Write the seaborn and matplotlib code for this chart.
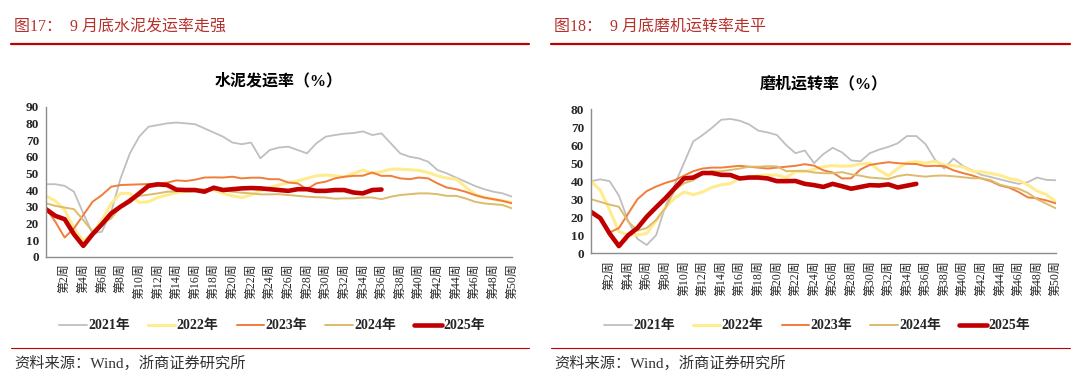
import matplotlib.pyplot as plt
import seaborn as sns
from matplotlib.lines import Line2D

# x positions (weeks) and labels
weeks = list(range(0, 51))
week_labels = [f"第{w}周" if (w % 2 == 0 and w > 0) else "" for w in weeks]

years = ["2021年", "2022年", "2023年", "2024年", "2025年"]
colors = ["#BFBFBF", "#FFEC8F", "#F07D3A", "#DDBB6C", "#C00000"]
widths = [1.3, 2.2, 1.4, 1.4, 3.3]

# 水泥发运率 (%)
cement_2021 = [43.5, 43.5, 42.5, 39, 26, 14, 15, 27, 47, 62, 72, 78, 79, 80, 80.5, 80, 79.5, 77, 74.5, 72,
               68.5, 67.5, 68.5, 59, 64, 65.5, 66, 64, 62, 68, 72, 73, 73.8, 74.2, 75.2, 73, 74, 68, 62, 60,
               59, 57, 52, 50, 47.5, 45, 42.5, 40.5, 39, 38, 36]
cement_2022 = [36.5, 33.5, 28, 17, 9.5, 14, 22, 32, 38, 38, 32.5, 33, 35.5, 37, 38.5, 39.2, 39.6, 40, 40, 38,
               36.5, 35.5, 37, 39.5, 41.5, 43, 44.5, 45.5, 47, 48.5, 49, 48.5, 47.8, 50, 52, 50, 51, 52.5, 52.5, 52.2,
               51.8, 50.5, 48.5, 47.2, 46.5, 42, 37.5, 35.5, 34.5, 33.5, 32.5]
cement_2023 = [29, 21, 11.5, 17, 25, 33, 37, 42, 43, 43.2, 43.4, 43.6, 44, 44.4, 45.8, 45.4, 46.2, 47.5, 47.6, 47.5,
               48, 47, 47.4, 47.4, 46.5, 46.5, 44.5, 44, 40.5, 44, 45, 47, 48, 48.5, 48.6, 50.5, 48.5, 48.5, 47, 46.5,
               47.5, 47, 44, 41.5, 40.5, 39, 37, 35.5, 34.5, 33.5, 32]
cement_2024 = [32, 30.5, 29.5, 28.5, 22, 15, 19.5, 23, 30, 35, 36.5, 37.2, 38, 39, 39.2, 39.8, 40, 40.5, 40.2, 39.8,
               39, 38.4, 38, 37.4, 37.4, 37.5, 37, 36.5, 36, 35.7, 35.5, 34.8, 35, 35, 35.5, 35.5, 34.5, 36, 37, 37.5,
               38, 38, 37.5, 36.5, 36.5, 35, 33, 32, 31.5, 31, 29]
cement_2025 = [28.5, 24.5, 22.5, 13.5, 6.5, 13.5, 19.5, 26, 30, 33.5, 38, 42.5, 43.4, 43, 40.2, 40, 40, 39, 41.4, 40,
               40.5, 41, 41.2, 41, 40.5, 40, 39.5, 40.5, 40.5, 39.5, 39.5, 40, 40, 38.5, 38, 40, 40.3]

# 磨机运转率 (%)
mill_2021 = [40, 41, 40, 32, 18, 8, 4.6, 10, 26, 38, 50, 62, 65.5, 69.5, 74, 74.5, 73.5, 71.5, 68, 67,
             65.6, 60, 55.5, 57, 50, 55, 58.5, 56, 51.5, 51, 55.5, 57.5, 59, 61, 65, 65, 60.5, 52, 47, 52.5,
             48.5, 46, 43.5, 42.3, 41, 39.7, 38.5, 39.5, 42, 40.7, 40.5]
mill_2022 = [40, 35, 24, 12, 10.2, 10.2, 11, 18, 25.5, 30.5, 34, 32.5, 34, 36.5, 38, 38.6, 41.5, 42.3, 43, 43.4,
             43.4, 42, 45.3, 45.3, 46.5, 48, 48.6, 48.3, 48.5, 49.5, 50, 46, 43, 47, 50.3, 50.8, 50, 51, 49, 48.6,
             47.8, 45.5, 45.2, 44.3, 43.3, 41.5, 40.5, 38, 34.5, 32.5, 28.7]
mill_2023 = [22, 19, 11.5, 14, 22, 30, 34.5, 37, 39, 40.5, 43, 45.5, 47, 47.5, 47.5, 48, 48.5, 48, 47.5, 47,
             47.5, 48, 48.5, 49.4, 48.6, 46, 44.8, 41.5, 41.6, 46.5, 49, 49.8, 50.5, 50, 49.6, 49.5, 48.3, 48.5, 48.3, 46,
             44.5, 43.2, 41.5, 40, 37.6, 36.4, 34, 31, 30.5, 29.3, 27.7]
mill_2024 = [30, 28.5, 27, 25.8, 17.6, 12.6, 14, 18.5, 25, 35, 38.8, 40.5, 44, 45.5, 45.5, 46.2, 47, 48, 48, 48.3,
             48.2, 45.5, 45.7, 45.7, 44.8, 44.4, 44.4, 45, 43.8, 43, 42, 41.6, 41.2, 42.8, 43.6, 43, 42.5, 43, 43.1, 42.7,
             42.2, 41.6, 41.6, 40.5, 38, 36.8, 35.8, 33.5, 30, 27.5, 25]
mill_2025 = [23, 19.5, 11, 4, 10, 14, 20.3, 25.5, 30.5, 36, 41.5, 42, 44.5, 44.5, 43.5, 43.4, 41.5, 42, 42, 41.5,
             40, 40, 40.1, 38.5, 37.8, 36.8, 38.5, 37.2, 35.8, 36.8, 37.8, 37.6, 38.2, 36.5, 37.5, 38.5]

sns.set_theme(style="white")
plt.rcParams["font.family"] = ["Liberation Serif", "Noto Sans CJK SC"]

fig = plt.figure(figsize=(10.8, 3.78), dpi=100)


def draw_panel(rect, series, ymax, title, legend_x):
    ax = fig.add_axes(rect)
    for name, vals, c, lw in zip(years, series, colors, widths):
        sns.lineplot(x=weeks[:len(vals)], y=vals, ax=ax, color=c, linewidth=lw,
                     label=name, legend=False, solid_capstyle="round")
    ax.set_xlim(0, 50)
    ax.set_ylim(0, ymax)
    ax.set_yticks(range(0, ymax + 1, 10))
    ax.set_yticklabels([str(v) for v in range(0, ymax + 1, 10)], fontsize=9.5, fontweight="bold")
    ax.set_xticks(weeks)
    ax.set_xticklabels(week_labels, rotation=90, fontsize=8.6)
    ax.set_xlabel("")
    ax.set_ylabel("")
    for s in ["top", "right"]:
        ax.spines[s].set_visible(False)
    for s in ["left", "bottom"]:
        ax.spines[s].set_color("#8C8C8C")
        ax.spines[s].set_linewidth(1.0)
    ax.tick_params(axis="both", direction="out", length=3, width=0.8, color="#8C8C8C", pad=2)
    ax.set_title(title, fontsize=11.5, fontweight="bold", pad=15, color="black")
    fig.legend(handles=ax.get_lines(), labels=years, loc="center",
               bbox_to_anchor=(legend_x, 1 - 326 / 378), ncol=5, frameon=False,
               prop={"size": 10, "weight": "bold"}, handlelength=2.0, handletextpad=0.1,
               columnspacing=1.3)
    return ax


draw_panel([46 / 1080, 1 - 256.7 / 378, 466 / 1080, 150 / 378],
           [cement_2021, cement_2022, cement_2023, cement_2024, cement_2025], 90,
           "水泥发运率（%）", 272 / 1080)
draw_panel([591 / 1080, 1 - 253.3 / 378, 464.7 / 1080, 144.3 / 378],
           [mill_2021, mill_2022, mill_2023, mill_2024, mill_2025], 80,
           "磨机运转率（%）", 817 / 1080)

# headers and footers
for x0, x1, head in [(11, 529, "图17：  9 月底水泥发运率走强"), (551, 1070, "图18：  9 月底磨机运转率走平")]:
    fig.text((x0 + 3) / 1080, 1 - 27 / 378, head, fontsize=11.5, color="#B5312B", va="center")
    fig.add_artist(Line2D([x0 / 1080, x1 / 1080], [1 - 44 / 378] * 2, color="#C00000", lw=1.6))
    fig.add_artist(Line2D([x0 / 1080, x1 / 1080], [1 - 348 / 378] * 2, color="#C00000", lw=0.8))
    fig.text((x0 + 3) / 1080, 1 - 363 / 378, "资料来源：Wind，浙商证券研究所", fontsize=11,
             color="#333333", va="center")

plt.savefig("out.png", dpi=100)
